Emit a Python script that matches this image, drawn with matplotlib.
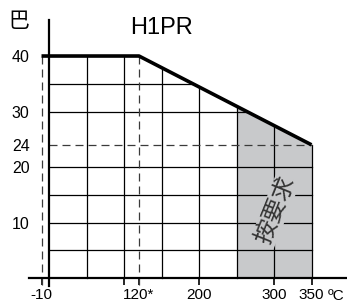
import matplotlib
matplotlib.use("Agg")
import matplotlib.pyplot as plt
import numpy as np

plt.rcParams['font.family'] = ['Liberation Sans', 'Noto Sans CJK SC', 'DejaVu Sans']

# pressure / temperature rating curve (bar vs degC)
temp = [-10, 120, 350]
pressure = [40, 40, 24]

grid_x = [50, 100, 150, 200, 250, 300, 350]
grid_y = [5, 10, 15, 20, 30, 35]
shade_x = [250, 350]          # "on request" zone

xticks = [-10, 0, 100, 120, 200, 300, 350]
xlabels = ['-10', '', '', '120*', '200', '300', '350']
yticks = [10, 20, 24, 30, 40]
ylabels = ['10', '20', '24', '30', '40']

title = 'H1PR'
unit_y = '巴'
unit_x = 'ºC'
zone_text = '按要求'

W, H = 347, 305
fig = plt.figure(figsize=(W / 100, H / 100), dpi=100)
ax = fig.add_axes([29 / W, (H - 286) / H, 318 / W, 266 / H])
ax.set_xlim(-26.67, 397.33)
ax.set_ylim(-1.44, 46.49)

for s in ['top', 'right']:
    ax.spines[s].set_visible(False)
ax.spines['left'].set_position(('data', 0))
ax.spines['bottom'].set_position(('data', 0))
ax.spines['left'].set_linewidth(1.6)
ax.spines['bottom'].set_linewidth(1.6)

# shaded zone
sx = np.linspace(shade_x[0], shade_x[1], 50)
ax.fill_between(sx, 0, np.interp(sx, temp, pressure), color='#c8c9cb', lw=0, zorder=1)

# grid clipped by the curve
for gx in grid_x:
    ax.plot([gx, gx], [0, np.interp(gx, temp, pressure)], color='black', lw=0.9, zorder=2)
for gy in grid_y:
    xe = np.interp(gy, pressure[::-1], temp[::-1]) if gy > min(pressure) else temp[-1]
    ax.plot([0, xe], [gy, gy], color='black', lw=0.9, zorder=2)

# dashed reference lines
dash = (0, (6.4, 4))
ax.plot([-10, -10], [-1.3, 40], color='#3a3a3a', lw=0.9, ls=dash, zorder=2)
ax.plot([120, 120], [-1.3, 40], color='#3a3a3a', lw=0.9, ls=dash, zorder=2)
ax.plot([0, 350], [24, 24], color='#3a3a3a', lw=0.9, ls=dash, zorder=2)

# rating curve
ax.plot(temp, pressure, color='black', lw=2.6, solid_capstyle='butt', zorder=4)

ax.text(302, 12.3, zone_text, rotation=68, ha='center', va='center', fontsize=17,
        color='#333333', family=['Noto Sans CJK SC', 'DejaVu Sans'],
        bbox=dict(facecolor='#c8c9cb', edgecolor='none', pad=1.0), zorder=3)

ax.set_xticks(xticks)
ax.set_xticklabels(xlabels)
ax.set_yticks(yticks)
ax.set_yticklabels(ylabels)
ax.tick_params(axis='x', direction='out', length=5, width=1.2, pad=2.5, labelsize=11)
ax.tick_params(axis='y', length=0, pad=14, labelsize=11.5)

ax.text(371, -3.3, unit_x, ha='left', va='center', fontsize=11, clip_on=False)
fig.text(162 / W, 1 - 28 / H, title, ha='center', va='center', fontsize=17)
fig.text(19 / W, 1 - 21 / H, unit_y, ha='center', va='center', fontsize=15,
         family=['Noto Sans CJK SC', 'DejaVu Sans'])

fig.savefig('out.png', dpi=100)
